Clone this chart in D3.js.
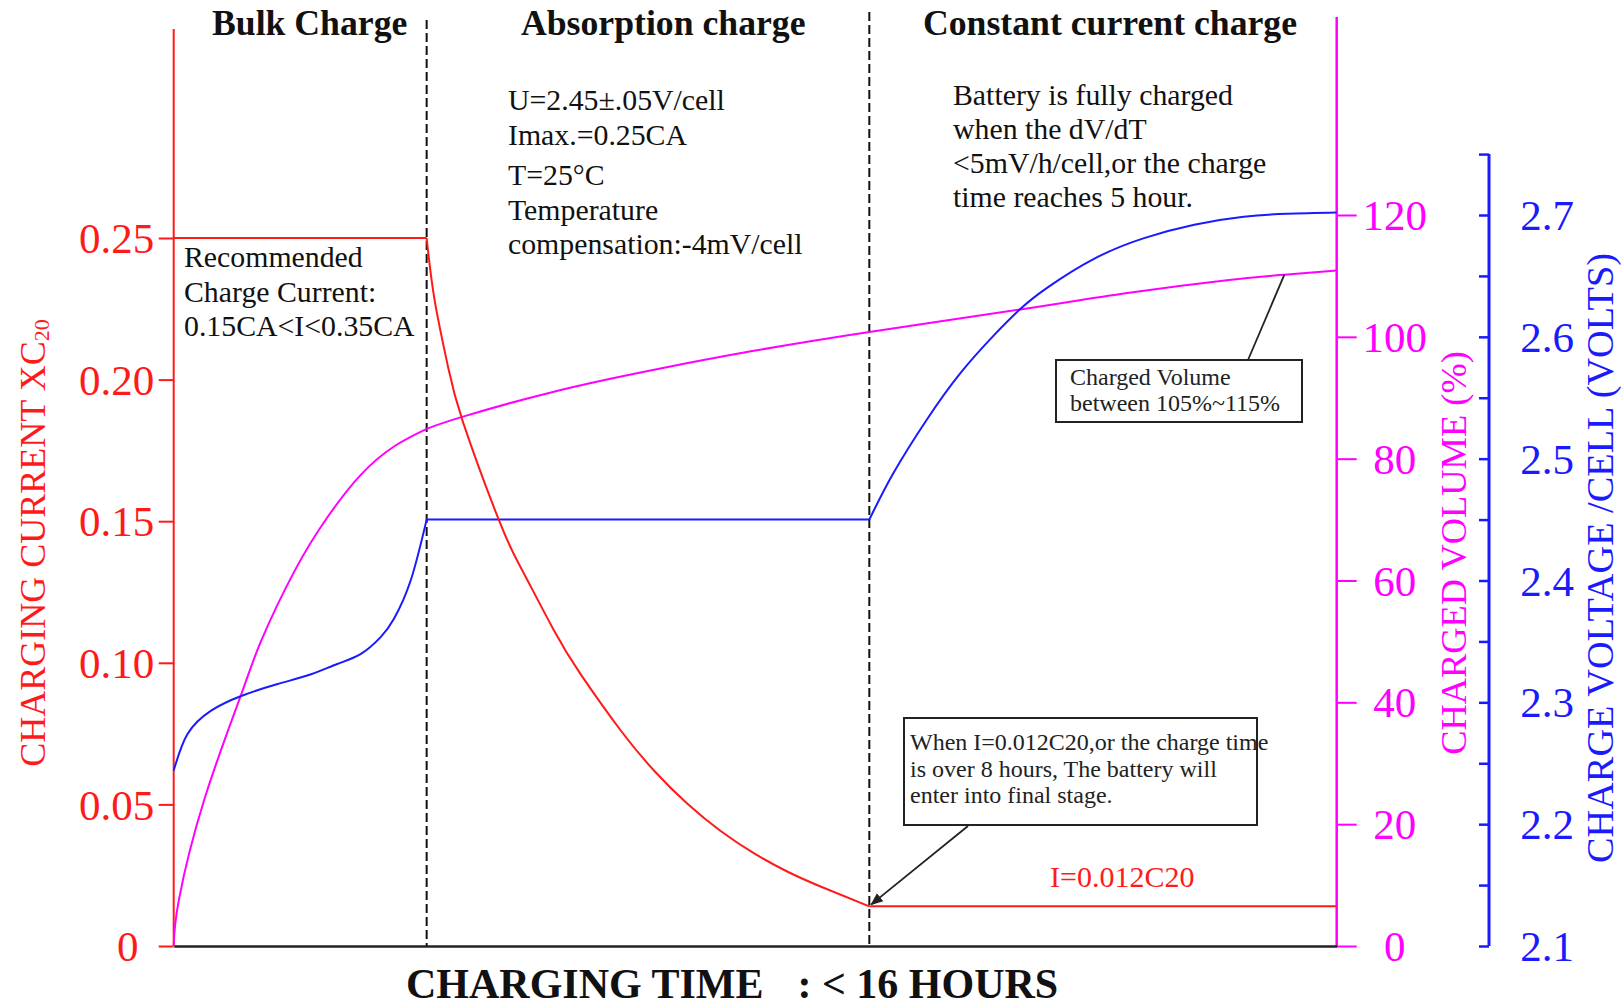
<!DOCTYPE html>
<meta charset="utf-8">
<head>
  <title>Charging characteristics</title>
</head>

<style>
body { margin: 0; background: #fff; }
text {
  font-family: "Liberation Serif", "Times New Roman", serif;
}
.head { font-size: 35.7px; font-weight: bold; fill: #111; }
.note { font-size: 29.8px; fill: #111; }
.small { font-size: 24px; fill: #222; }
.axis text { font-family: "Liberation Serif", "Times New Roman", serif; font-size: 43px; }
.title { font-size: 36.4px; }
</style>

<body>
  <svg width="1621" height="1006"></svg>

  <script src="https://d3js.org/d3.v7.min.js"></script>
  <script>
// stage boundaries, hours
var phaseHours = [3.48, 9.57];

// charging current, xC20
var currentHours  = [0, 3.48, 3.59, 3.77, 3.98, 4.48, 4.78, 5.23, 5.60, 6.15, 6.61, 7.06, 7.52, 7.98, 8.44, 8.89, 9.57, 16];
var currentValues = [0.25, 0.25, 0.228, 0.205, 0.185, 0.150, 0.1334, 0.1115, 0.0959, 0.0761, 0.0619, 0.0504, 0.0407, 0.0328, 0.0263, 0.0211, 0.014, 0.014];
var currentCorners = [1, 16];

// charge voltage per cell, V
var voltageHours  = [0, 0.19, 0.51, 0.92, 1.43, 1.89, 2.25, 2.57, 2.85, 3.03, 3.26, 3.48, 9.57, 9.90, 10.36, 10.82, 11.28, 11.65, 12.01, 12.66, 13.35, 14.04, 14.72, 15.32, 16];
var voltageValues = [2.244, 2.274, 2.293, 2.305, 2.315, 2.323, 2.3315, 2.3395, 2.3537, 2.3686, 2.400, 2.45, 2.45, 2.488, 2.532, 2.570, 2.601, 2.623, 2.640, 2.664, 2.681, 2.692, 2.6985, 2.701, 2.702];
var voltageCorners = [11, 12];

// charged volume, %
var volumeHours  = [0, 0.07, 0.42, 0.92, 1.20, 1.66, 2.11, 2.57, 3.03, 3.48, 3.98, 5.23, 6.61, 7.98, 9.57, 11.65, 13.12, 14.49, 15.28, 16];
var volumeValues = [0, 7.5, 24.0, 41.0, 50.0, 61.5, 70.3, 77.3, 82.0, 84.9, 86.9, 91.0, 94.6, 97.7, 100.8, 104.5, 107.2, 109.3, 110.2, 110.9];
var volumeCorners = [9];

var currentTicks = [0, 0.05, 0.10, 0.15, 0.20, 0.25];
var volumeTicks  = [0, 20, 40, 60, 80, 100, 120];
var voltageTicks = [2.1, 2.15, 2.2, 2.25, 2.3, 2.35, 2.4, 2.45, 2.5, 2.55, 2.6, 2.65, 2.7, 2.75];
var voltageLabels = [2.1, 2.2, 2.3, 2.4, 2.5, 2.6, 2.7];

var stageNames = ["Bulk Charge", "Absorption charge", "Constant current charge"];

var RED = "#ff1a1a", PINK = "#ff00ff", BLUE = "#1a1aff";

var svg = d3.select("svg");

var x  = d3.scaleLinear().domain([0, 16]).range([173.7, 1336.7]);
var yI = d3.scaleLinear().domain([0, 0.25]).range([946, 238]);
var yV = d3.scaleLinear().domain([0, 120]).range([946, 215]);
var yU = d3.scaleLinear().domain([2.1, 2.7]).range([946, 215]);

// ---- axes ----
var aI = svg.append("g").attr("class", "axis")
  .attr("transform", "translate(" + x(0) + ",0)")
  .call(d3.axisLeft(yI).tickValues(currentTicks).tickSize(15).tickSizeOuter(0)
    .tickFormat(function(d) { return d === 0 ? "0" : d3.format(".2f")(d); }));
aI.select(".domain").remove();
aI.selectAll("line").attr("stroke", RED).attr("stroke-width", 2);
aI.selectAll("text").attr("fill", RED).attr("text-anchor", "middle")
  .attr("x", function(d) { return d === 0 ? -46 : -57; }).attr("dy", "0.34em");
svg.append("line").attr("x1", x(0)).attr("x2", x(0)).attr("y1", yI(0)).attr("y2", 29)
  .attr("stroke", RED).attr("stroke-width", 2);

var aV = svg.append("g").attr("class", "axis")
  .attr("transform", "translate(" + x(16) + ",0)")
  .call(d3.axisRight(yV).tickValues(volumeTicks).tickSize(20).tickSizeOuter(0));
aV.select(".domain").remove();
aV.selectAll("line").attr("stroke", PINK).attr("stroke-width", 2);
aV.selectAll("text").attr("fill", PINK).attr("text-anchor", "middle").attr("x", 58).attr("dy", "0.34em");
svg.append("line").attr("x1", x(16)).attr("x2", x(16)).attr("y1", yV(0)).attr("y2", 17)
  .attr("stroke", PINK).attr("stroke-width", 2.5);

var uAxisX = 1489;
var aU = svg.append("g").attr("class", "axis")
  .attr("transform", "translate(" + uAxisX + ",0)")
  .call(d3.axisLeft(yU).tickValues(voltageTicks).tickSize(10).tickSizeOuter(0)
    .tickFormat(function(d) { return voltageLabels.indexOf(d) >= 0 ? d.toFixed(1) : ""; }));
aU.select(".domain").remove();
aU.selectAll("line").attr("stroke", BLUE).attr("stroke-width", 2.5);
aU.selectAll("text").attr("fill", BLUE).attr("text-anchor", "middle").attr("x", 58).attr("dy", "0.34em");
svg.append("line").attr("x1", uAxisX).attr("x2", uAxisX).attr("y1", yU(2.1)).attr("y2", yU(2.75))
  .attr("stroke", BLUE).attr("stroke-width", 3);

// time axis
var aT = svg.append("g").attr("transform", "translate(0," + yI(0) + ")")
  .call(d3.axisBottom(x).tickValues([]).tickSizeOuter(0));
aT.select(".domain").attr("stroke", "#222").attr("stroke-width", 2.5);

// axis titles
function vTitle(tx, ty, color, size) {
  return svg.append("text").attr("class", "title")
    .attr("transform", "translate(" + tx + "," + ty + ") rotate(-90)")
    .attr("text-anchor", "middle").attr("fill", color)
    .style("font-size", size + "px");
}
var tI = vTitle(45, 543, RED, 36);
tI.append("tspan").text("CHARGING CURRENT XC");
tI.append("tspan").style("font-size", "22px").attr("dy", 4).text("20");
vTitle(1466, 553, PINK, 36.4).text("CHARGED VOLUME (%)");
vTitle(1613, 558, BLUE, 38.3).text("CHARGE VOLTAGE /CELL (VOLTS)");

var tx = svg.append("text").attr("x", 406).attr("y", 998)
  .attr("font-size", "42px").attr("font-weight", "bold").attr("fill", "#111");
tx.append("tspan").text("CHARGING TIME");
tx.append("tspan").attr("dx", 34).text(": < 16 HOURS");

// ---- stage separators ----
var sepTops = [20, 12];
svg.selectAll(".sep").data(phaseHours).enter().append("line")
  .attr("class", "sep")
  .attr("x1", function(d) { return x(d); })
  .attr("x2", function(d) { return x(d); })
  .attr("y1", function(d, i) { return sepTops[i]; })
  .attr("y2", yI(0))
  .attr("stroke", "#111").attr("stroke-width", 2).attr("stroke-dasharray", "9,4");

// ---- curves ----
function drawSeries(hours, values, yScale, corners, color) {
  var pts = hours.map(function(h, i) { return [h, values[i]]; });
  var cuts = [0].concat(corners || []).concat([pts.length - 1]);
  var line = d3.line()
    .x(function(d) { return x(d[0]); })
    .y(function(d) { return yScale(d[1]); })
    .curve(d3.curveNatural);
  for (var i = 0; i < cuts.length - 1; i++) {
    svg.append("path")
      .attr("d", line(pts.slice(cuts[i], cuts[i + 1] + 1)))
      .attr("fill", "none").attr("stroke", color).attr("stroke-width", 2);
  }
}
drawSeries(volumeHours, volumeValues, yV, volumeCorners, PINK);
drawSeries(voltageHours, voltageValues, yU, voltageCorners, BLUE);
drawSeries(currentHours, currentValues, yI, currentCorners, RED);

// ---- stage headings ----
var headX = [212, 521, 923];
svg.selectAll(".head").data(stageNames).enter().append("text")
  .attr("class", "head")
  .attr("x", function(d, i) { return headX[i]; })
  .attr("y", 35)
  .text(function(d) { return d; });

// ---- notes ----
function note(lines, x0, ys, cls, color) {
  var g = svg.append("g");
  lines.forEach(function(t, i) {
    g.append("text").attr("class", cls).attr("x", x0).attr("y", ys[i])
      .attr("fill", color || null).text(t);
  });
  return g;
}
note(["Recommended", "Charge Current:", "0.15CA<I<0.35CA"], 184, [267, 302, 336], "note");
note(["U=2.45\u00b1.05V/cell", "Imax.=0.25CA", "T=25\u00b0C", "Temperature", "compensation:-4mV/cell"],
  508, [110, 145, 185, 220, 254], "note");
note(["Battery is fully charged", "when the dV/dT", "<5mV/h/cell,or the charge", "time reaches 5 hour."],
  953, [105, 139, 173, 207], "note");

// final stage callout
svg.append("defs").append("marker")
  .attr("id", "arr").attr("viewBox", "0 0 10 10").attr("refX", 9).attr("refY", 5)
  .attr("markerWidth", 7).attr("markerHeight", 7).attr("orient", "auto")
  .append("path").attr("d", "M0,1L10,5L0,9z").attr("fill", "#222");

svg.append("rect").attr("x", 904).attr("y", 718).attr("width", 353).attr("height", 107)
  .attr("fill", "#fff").attr("stroke", "#222").attr("stroke-width", 2);
note(["When I=0.012C20,or the charge time", "is over 8 hours, The battery will", "enter into final stage."],
  910, [750, 777, 803], "small");
svg.append("line").attr("x1", 968).attr("y1", 826)
  .attr("x2", x(phaseHours[1]) + 2).attr("y2", yI(currentValues[16]) - 2)
  .attr("stroke", "#222").attr("stroke-width", 1.8).attr("marker-end", "url(#arr)");

svg.append("text").attr("x", 1050).attr("y", 887).attr("font-size", "30px").attr("fill", RED)
  .text("I=0.012C20");

// volume callout
svg.append("rect").attr("x", 1056).attr("y", 360).attr("width", 246).attr("height", 62)
  .attr("fill", "#fff").attr("stroke", "#222").attr("stroke-width", 2);
note(["Charged Volume", "between 105%~115%"], 1070, [385, 411], "small", "#333");
svg.append("line").attr("x1", 1248).attr("y1", 360)
  .attr("x2", x(volumeHours[18])).attr("y2", yV(volumeValues[18]))
  .attr("stroke", "#222").attr("stroke-width", 1.8);
  </script>
</body>
</html>
